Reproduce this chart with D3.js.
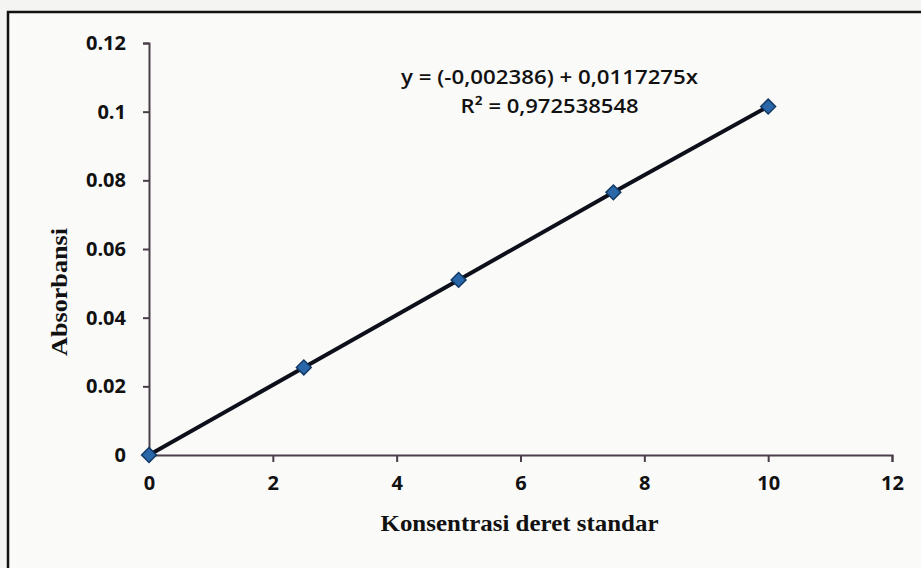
<!DOCTYPE html>
<html>
<head>
<meta charset="utf-8">
<script src="https://cdn.jsdelivr.net/npm/d3@7/dist/d3.min.js"></script>
<style>
  body { margin: 0; background: #f4f4f2; }
  svg { display: block; }
  .tick text { font-family: "Open Sans", "Liberation Sans", sans-serif; font-weight: 700; font-size: 20px; fill: #111; }
  .axis path, .axis line { stroke: #4a3f48; stroke-width: 2; }
  .axis-label { font-family: "Liberation Serif", "DejaVu Serif", serif; font-weight: 700; font-size: 23px; fill: #111; }
  .eq { font-family: "Open Sans", "Liberation Sans", sans-serif; font-weight: 600; font-size: 20px; fill: #111; }
</style>
</head>
<body>
<svg width="921" height="568"></svg>
<script>
var svg = d3.select('svg');
var svgWidth = +svg.attr('width');
var svgHeight = +svg.attr('height');

// data
var konsentrasi = [0, 2.5, 5, 7.5, 10];
var absorbansi = [0, 0.0255, 0.051, 0.0765, 0.1015];
var xTicks = [0, 2, 4, 6, 8, 10, 12];
var yTicks = [0, 0.02, 0.04, 0.06, 0.08, 0.1, 0.12];
var eqLines = ['y = (-0,002386) + 0,0117275x', 'R\u00b2 = 0,972538548'];
var eqWidths = [297, 178];

var padding = {t: 43, r: 29, b: 113, l: 149};
var chartWidth = svgWidth - padding.l - padding.r;
var chartHeight = svgHeight - padding.t - padding.b;

// frame of the chart area (photo is cropped on the right/bottom)
svg.append('rect')
    .attr('x', 8).attr('y', 12)
    .attr('width', svgWidth + 10).attr('height', svgHeight + 10)
    .attr('fill', '#fafaf8')
    .attr('stroke', '#111')
    .attr('stroke-width', 2.5);

var chartG = svg.append('g')
    .attr('transform', 'translate(' + [padding.l, padding.t] + ')');

var xScale = d3.scaleLinear().domain([0, 12]).range([0, chartWidth]);
var yScale = d3.scaleLinear().domain([0, 0.12]).range([chartHeight, 0]);

var xAxis = d3.axisBottom(xScale).tickValues(xTicks).tickSize(7).tickSizeOuter(7).tickPadding(14)
    .tickFormat(d3.format('d'));
var yAxis = d3.axisLeft(yScale).tickValues(yTicks).tickSize(6).tickSizeOuter(6).tickPadding(17)
    .tickFormat(function(d){ return d === 0 ? '0' : String(+d.toFixed(2)); });

chartG.append('g')
    .attr('class', 'y axis')
    .call(yAxis);

chartG.append('g')
    .attr('class', 'x axis')
    .attr('transform', 'translate(' + [0, chartHeight] + ')')
    .call(xAxis);

chartG.append('text')
    .attr('class', 'axis-label')
    .attr('text-anchor', 'middle')
    .attr('textLength', 128)
    .attr('lengthAdjust', 'spacingAndGlyphs')
    .attr('transform', 'translate(' + [-82, chartHeight / 2 + 43] + ')rotate(270)')
    .text('Absorbansi');

chartG.append('text')
    .attr('class', 'axis-label')
    .attr('text-anchor', 'middle')
    .attr('textLength', 278)
    .attr('lengthAdjust', 'spacingAndGlyphs')
    .attr('x', xScale(6) - 1)
    .attr('y', chartHeight + 76)
    .text('Konsentrasi deret standar');

var points = konsentrasi.map(function(k, i){ return {x: k, y: absorbansi[i]}; });

var line = d3.line()
    .x(function(d){ return xScale(d.x); })
    .y(function(d){ return yScale(d.y); });

chartG.append('path')
    .datum(points)
    .attr('fill', 'none')
    .attr('stroke', '#0d0f1a')
    .attr('stroke-width', 4)
    .attr('d', line);

chartG.selectAll('.dot')
    .data(points)
    .enter()
    .append('path')
    .attr('class', 'dot')
    .attr('d', d3.symbol().type(d3.symbolDiamond2).size(140))
    .attr('transform', function(d){
        return 'translate(' + [xScale(d.x), yScale(d.y)] + ')';
    })
    .attr('fill', '#2a67a8')
    .attr('stroke', '#123a66')
    .attr('stroke-width', 1.5);

chartG.selectAll('.eq')
    .data(eqLines)
    .enter()
    .append('text')
    .attr('class', 'eq')
    .attr('text-anchor', 'middle')
    .attr('textLength', function(d, i){ return eqWidths[i]; })
    .attr('lengthAdjust', 'spacingAndGlyphs')
    .attr('x', xScale(6.47))
    .attr('y', function(d, i){ return 41 + i * 29; })
    .text(function(d){ return d; });
</script>
</body>
</html>
